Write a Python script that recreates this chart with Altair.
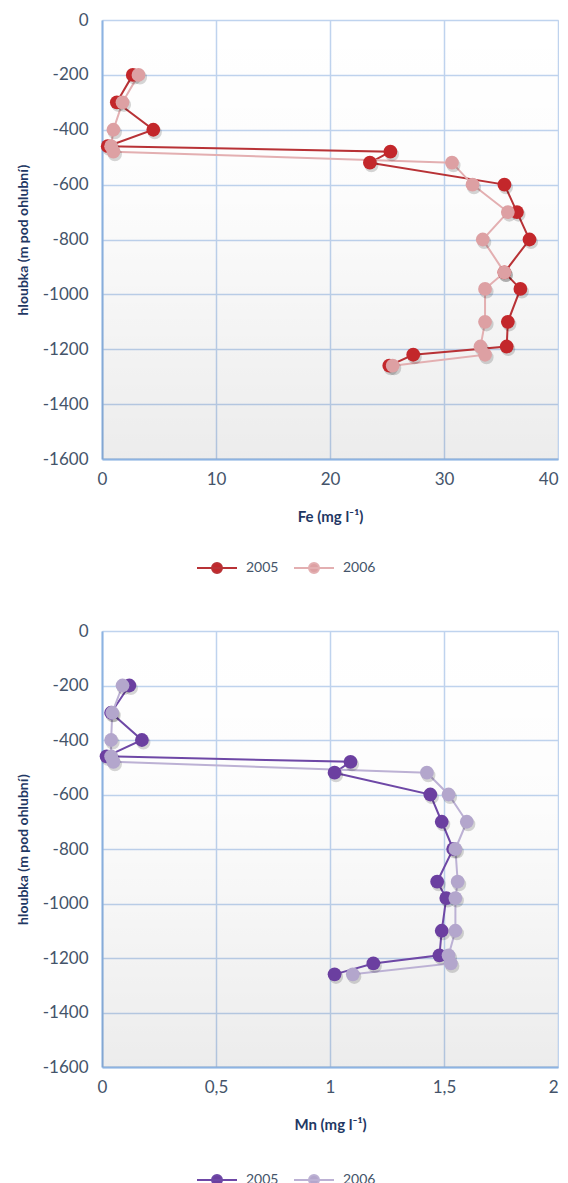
import altair as alt
import pandas as pd

# ---- data ----
years = ["2005", "2006"]
depth = [-200, -300, -400, -460, -480, -520, -600, -700, -800, -920, -980, -1100, -1190, -1220, -1260]

fe_2005 = [2.7, 1.3, 4.5, 0.5, 25.3, 23.5, 35.3, 36.4, 37.5, 35.3, 36.7, 35.6, 35.5, 27.3, 25.2]
fe_2006 = [3.2, 1.8, 1.0, 0.8, 1.0, 30.7, 32.5, 35.6, 33.4, 35.3, 33.6, 33.6, 33.2, 33.6, 25.5]

mn_2005 = [0.12, 0.04, 0.175, 0.02, 1.09, 1.02, 1.44, 1.49, 1.54, 1.47, 1.51, 1.49, 1.48, 1.19, 1.02]
mn_2006 = [0.09, 0.045, 0.04, 0.04, 0.05, 1.425, 1.52, 1.60, 1.55, 1.56, 1.55, 1.55, 1.52, 1.53, 1.10]

y_ticks = [-1600, -1400, -1200, -1000, -800, -600, -400, -200, 0]
fe_ticks = [0, 10, 20, 30, 40]
mn_ticks = [0, 0.5, 1, 1.5, 2]

FONT = "Lato, 'DejaVu Sans', sans-serif"
LABEL_COLOR = "#44546A"
TITLE_COLOR = "#1F3864"
GRID = "#BFD3EE"
AXIS_LINE = "#8DB3E2"
LEG_PATH = "M-1,0L1,0M0.25,0A0.25,0.25,0,1,1,-0.25,0A0.25,0.25,0,1,1,0.25,0"
BG_GRADIENT = alt.LinearGradient(
    gradient="linear", x1=0, y1=0, x2=0, y2=1,
    stops=[
        alt.GradientStop(offset=0, color="rgba(0,0,0,0)"),
        alt.GradientStop(offset=0.4, color="rgba(0,0,0,0.012)"),
        alt.GradientStop(offset=1, color="rgba(0,0,0,0.075)"),
    ],
)


def make_df(v05, v06):
    rows = []
    for i, d in enumerate(depth):
        rows.append({"rok": "2005", "seq": i, "hloubka": d, "val": v05[i]})
    for i, d in enumerate(depth):
        rows.append({"rok": "2006", "seq": i, "hloubka": d, "val": v06[i]})
    return pd.DataFrame(rows)


def legend_def(stroke_w, z, ly):
    return alt.Legend(
        orient="none", legendX=94, legendY=ly, direction="horizontal", title=None,
        symbolType=LEG_PATH, symbolSize=1600, symbolStrokeWidth=stroke_w, symbolOpacity=1,
        labelFont=FONT, labelFontSize=14, labelColor=LABEL_COLOR, labelOffset=8,
        columnPadding=11, zindex=z,
    )


def panel(df, xmax, xticks, xtitle, line_cols, fill_cols, h, xlabel_expr, ly):
    base = alt.Chart(df)
    xscale = alt.Scale(domain=[0, xmax], nice=False, zero=False)
    yscale = alt.Scale(domain=[-1600, 0], nice=False, zero=False)
    x = alt.X(
        "val:Q", scale=xscale,
        axis=alt.Axis(
            values=xticks, title=xtitle, labelExpr=xlabel_expr,
            labelAlign={"condition": {"test": f"datum.value >= {xmax}", "value": "right"}, "value": "center"},
            grid=True, gridColor=GRID, gridWidth=1.5,
            domainColor=AXIS_LINE, domainWidth=2, ticks=False,
            labelFont=FONT, labelFontSize=17, labelColor=LABEL_COLOR, labelPadding=12,
            titleFont=FONT, titleFontSize=15, titleFontWeight="bold", titleColor=TITLE_COLOR,
            titlePadding=22,
        ),
    )
    y = alt.Y(
        "hloubka:Q", scale=yscale,
        axis=alt.Axis(
            values=y_ticks, title="hloubka (m pod ohlubní)", labelExpr="datum.value + ''",
            grid=True, gridColor=GRID, gridWidth=1.5,
            domainColor=AXIS_LINE, domainWidth=2, ticks=False,
            labelFont=FONT, labelFontSize=17, labelColor=LABEL_COLOR, labelPadding=14,
            titleFont=FONT, titleFontSize=14, titleFontWeight="bold", titleColor=TITLE_COLOR,
            titlePadding=12,
        ),
    )
    bg = alt.Chart(pd.DataFrame({"k": [0]})).mark_rect(color=BG_GRADIENT).encode(
        x=alt.datum(0), x2=alt.datum(xmax), y=alt.datum(-1600), y2=alt.datum(0),
    )
    lines = base.mark_line(strokeWidth=2).encode(
        x=x, y=y,
        color=alt.Color("rok:N", scale=alt.Scale(domain=years, range=line_cols), legend=legend_def(2, 1, ly)),
        order=alt.Order("seq:Q"),
    )
    shadow = base.mark_circle(size=200, color="#000000", opacity=0.16, xOffset=1.5, yOffset=2.5).encode(
        x=x, y=y,
    )
    points = base.mark_circle(size=190, opacity=1).encode(
        x=x, y=y,
        fill=alt.Fill("rok:N", scale=alt.Scale(domain=years, range=fill_cols), legend=legend_def(0, 2, ly)),
        order=alt.Order("rok:N"),
    )
    return alt.layer(bg, lines, shadow, points).properties(width=456, height=h)


fe_chart = panel(
    make_df(fe_2005, fe_2006), 40, fe_ticks, "Fe (mg l⁻¹)",
    ["#B83236", "#E3AFB1"], ["#C3272B", "#DDA0A3"], 439, "datum.value + ''", 527,
)
mn_chart = panel(
    make_df(mn_2005, mn_2006), 2, mn_ticks, "Mn (mg l⁻¹)",
    ["#6E48A6", "#BCB1D4"], ["#6B3FA0", "#B3A6CC"], 436, "replace(datum.value + '', '.', ',')", 528,
)

chart = (
    alt.vconcat(fe_chart, mn_chart, spacing=43)
    .resolve_scale(x="independent", color="independent", fill="independent")
    .resolve_legend(color="independent", fill="independent")
    .properties(padding={"left": 7, "top": 2, "right": 0, "bottom": 0})
    .configure_view(stroke=None)
    .configure(background="#FFFFFF")
)

chart.save("out.html", embed_options={"renderer": "svg", "actions": False})
